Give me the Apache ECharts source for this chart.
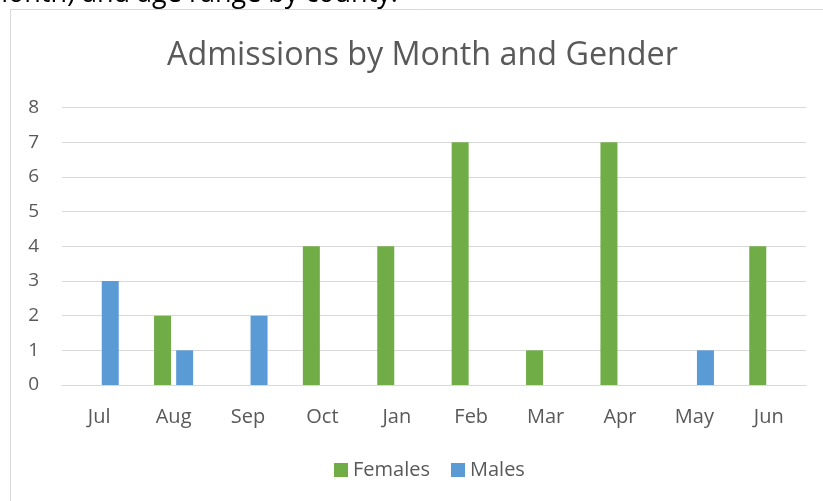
<!DOCTYPE html>
<html>
<head>
<meta charset="utf-8">
<script src="https://cdn.jsdelivr.net/npm/echarts@6/dist/echarts.min.js"></script>
<style>
html,body{margin:0;padding:0;background:#fff;}
#chart{width:823px;height:501px;}
</style>
</head>
<body>
<div id="chart"></div>
<script>
var categories = ['Jul','Aug','Sep','Oct','Jan','Feb','Mar','Apr','May','Jun'];
var females = [0, 2, 0, 4, 4, 7, 1, 7, 0, 4];
var males = [3, 1, 2, 0, 0, 0, 0, 0, 1, 0];
var yTicks = [0, 1, 2, 3, 4, 5, 6, 7, 8];

var chart = echarts.init(document.getElementById('chart'));
var font = 'Open Sans, Liberation Sans, sans-serif';
chart.setOption({
  animation: false,
  backgroundColor: '#fff',
  graphic: [
    {type:'rect', shape:{x:10.5, y:9.5, width:830, height:520}, style:{fill:'none', stroke:'#D9D9D9', lineWidth:1}, z:-1},
    {type:'text', x:-17, y:8, style:{text:'month) and age range by county.', fontSize:27, fontFamily:font, fill:'#000', verticalAlign:'bottom'}}
  ],
  title: {
    text: 'Admissions by Month and Gender',
    left: 162,
    top: 35,
    textStyle: {fontSize: 32.3, fontWeight: 'normal', color: '#595959', fontFamily: font}
  },
  legend: {
    bottom: 16,
    left: 329,
    itemWidth: 14,
    itemHeight: 14,
    itemGap: 21,
    itemTextGap: 6,
    icon: 'rect',
    textStyle: {fontSize: 20, color: '#595959', fontFamily: font},
    data: ['Females','Males']
  },
  grid: {left: 62, right: 17, top: 107.5, bottom: 116, containLabel: false},
  xAxis: {
    type: 'category',
    data: categories,
    axisLine: {lineStyle: {color: '#D9D9D9', width: 1}},
    axisTick: {show: false},
    axisLabel: {fontSize: 20, color: '#595959', fontFamily: font, margin: 22}
  },
  yAxis: {
    type: 'value',
    min: yTicks[0],
    max: yTicks[yTicks.length-1],
    interval: 1,
    axisLine: {show: false},
    axisTick: {show: false},
    splitLine: {lineStyle: {color: '#D9D9D9', width: 1}},
    axisLabel: {fontSize: 19, color: '#595959', fontFamily: font, margin: 23}
  },
  series: [
    {name: 'Females', type: 'bar', data: females, barWidth: 17, barGap: '30%', itemStyle: {color: '#70AD47'}},
    {name: 'Males', type: 'bar', data: males, barWidth: 17, itemStyle: {color: '#5B9BD5'}}
  ]
});
</script>
</body>
</html>
